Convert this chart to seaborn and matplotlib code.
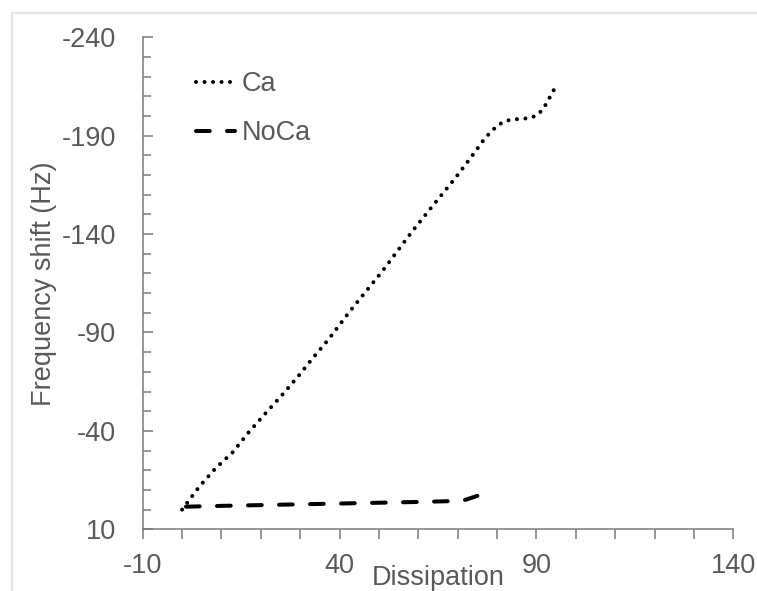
"""
Frequency shift vs dissipation plot (Ca / NoCa).
"""

import matplotlib
matplotlib.use("Agg")
import matplotlib.pyplot as plt
from matplotlib.patches import Rectangle
from matplotlib.ticker import MultipleLocator
import seaborn as sns
import pandas as pd

# --- data ---
ca_dissipation = [0, 4.5, 8.5, 12.8, 16.8, 21.0, 25.3, 29.6, 33.2, 37.2, 42.7,
                  50.8, 58.5, 63.9, 69.4, 74.5, 77.0, 80.0, 82.0, 84.0, 86.1,
                  88.2, 90.2, 91.7, 92.8, 93.8, 94.8]
ca_freq = [0, -12, -21, -29, -39, -48.5, -58, -68, -77, -86.5, -101,
           -121, -141.5, -155, -168.5, -182, -189, -195, -197.5, -198.2, -198.6,
           -198.9, -200.4, -203.6, -207.3, -211, -214.7]

noca_dissipation = [1, 10, 20, 30, 40, 50, 60, 70, 72, 75]
noca_freq = [-1.5, -1.9, -2.3, -2.7, -3.1, -3.5, -3.9, -4.4, -5.0, -7.0]

x_ticks = [-10, 40, 90, 140]
y_ticks = [10, -40, -90, -140, -190, -240]

TEXT = "#595959"
AXIS = "#7a7a7a"

sns.set_style("white")
plt.rcParams["font.family"] = ["Liberation Sans", "DejaVu Sans"]
plt.rcParams["axes.unicode_minus"] = False

fig = plt.figure(figsize=(7.57, 5.91), dpi=100)
ax = fig.add_axes([0.1885, 0.1044, 0.7802, 0.8325])

ca = pd.DataFrame({"x": ca_dissipation, "y": ca_freq})
noca = pd.DataFrame({"x": noca_dissipation, "y": noca_freq})

sns.lineplot(data=ca, x="x", y="y", sort=False, color="black", ax=ax,
             label="Ca")
sns.lineplot(data=noca, x="x", y="y", sort=False, color="black", ax=ax,
             label="NoCa")

ca_line, noca_line = ax.get_lines()[:2]
ca_line.set_linewidth(2.9)
ca_line.set_linestyle((0, (0.01, 2.1)))
ca_line.set_dash_capstyle("round")
noca_line.set_linewidth(2.9)
noca_line.set_linestyle((0, (3.4, 4.3)))
noca_line.set_dash_capstyle("round")

ax.set_xlim(-10, 140)
ax.set_ylim(10, -240)
ax.set_xticks(x_ticks)
ax.set_yticks(y_ticks)
ax.xaxis.set_minor_locator(MultipleLocator(10))
ax.yaxis.set_minor_locator(MultipleLocator(10))

for side in ["top", "right"]:
    ax.spines[side].set_visible(False)
for side in ["left", "bottom"]:
    ax.spines[side].set_color(AXIS)
    ax.spines[side].set_linewidth(1.1)

ax.tick_params(axis="x", which="both", direction="out", length=7, width=1.1,
               color=AXIS, labelsize=19.5, labelcolor=TEXT, pad=10, bottom=True)
ax.tick_params(axis="y", which="major", direction="in", length=7, width=1.1,
               color=AXIS, labelsize=19.5, labelcolor=TEXT, pad=19, left=True)
ax.tick_params(axis="y", which="minor", direction="in", length=6, width=1.1,
               color=AXIS, left=True)

ax.set_xlabel("Dissipation", fontsize=19.5, color=TEXT)
ax.set_ylabel("Frequency shift (Hz)", fontsize=19.5, color=TEXT)
ax.xaxis.set_label_coords(0.5, -0.073)
ax.yaxis.set_label_coords(-0.145, 0.5)

leg = ax.legend(loc="upper left", bbox_to_anchor=(196 / 757, 1 - 71 / 591),
                bbox_transform=fig.transFigure, frameon=False, fontsize=19.5,
                handlelength=1.45, handletextpad=0.25, labelspacing=0.85,
                borderpad=0, borderaxespad=0)
for t in leg.get_texts():
    t.set_color(TEXT)

# light chart-area border (only top and left visible in the crop)
fig.patches.append(Rectangle((12 / 757, -0.1), 1.2, 1.1 - 13.5 / 591,
                             transform=fig.transFigure, fill=False,
                             edgecolor="#e6e6e6", lw=1.5))

fig.savefig("out.png", dpi=100)
